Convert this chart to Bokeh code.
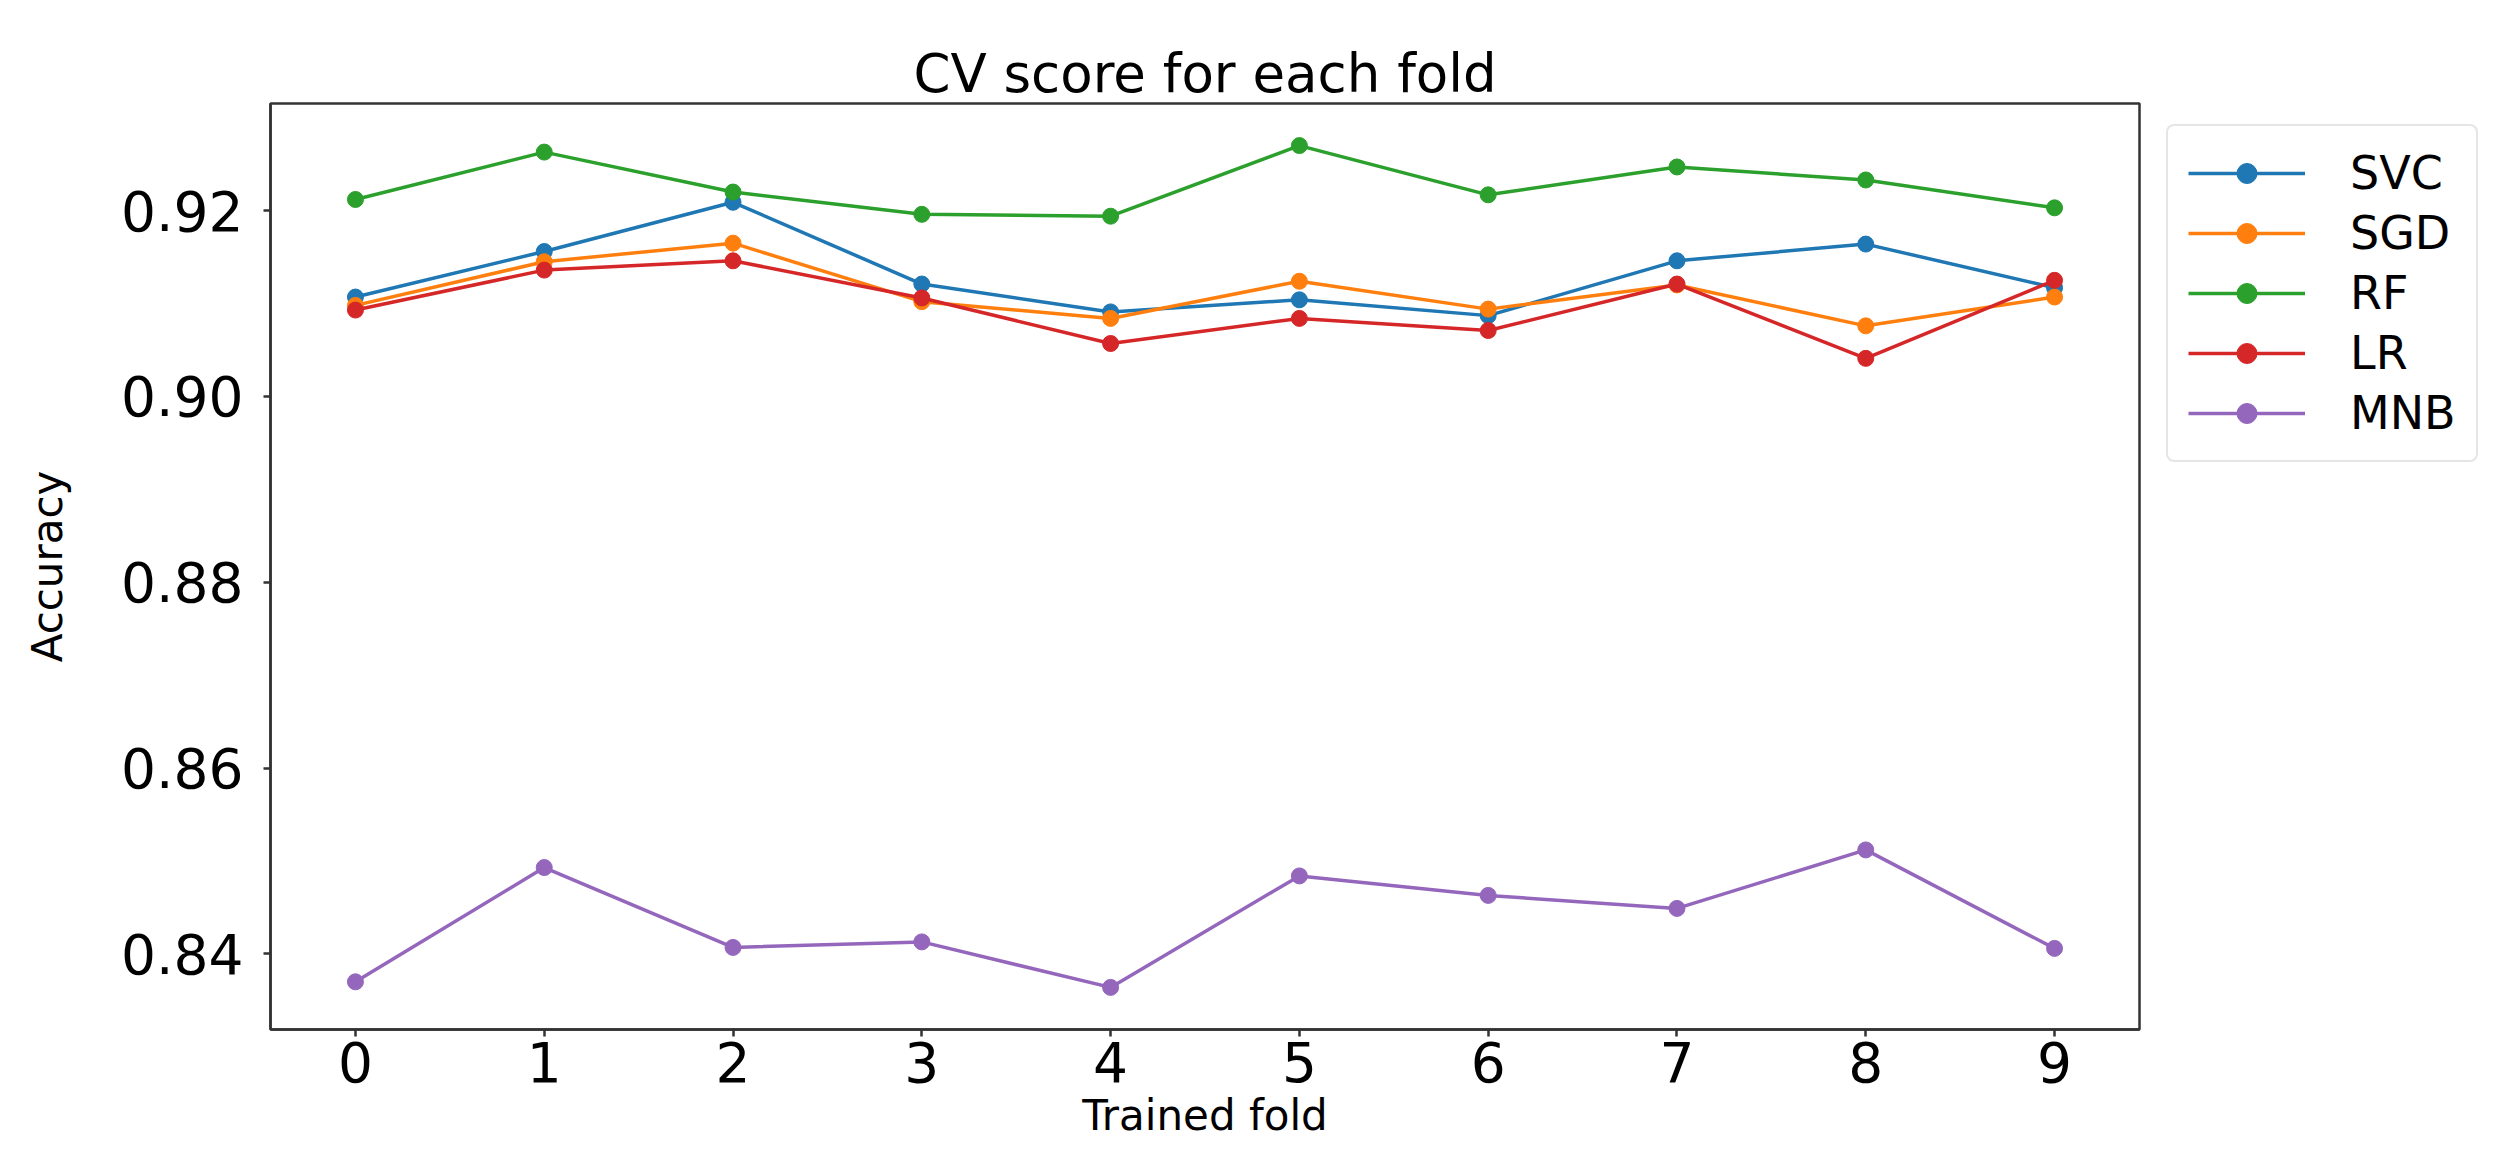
from bokeh.plotting import figure
from bokeh.layouts import row
from bokeh.models import Legend, LegendItem, FixedTicker, Range1d, PrintfTickFormatter
from bokeh.embed import file_html
from bokeh.resources import INLINE

# ---- data ----
folds = [0, 1, 2, 3, 4, 5, 6, 7, 8, 9]
svc = [0.9107, 0.9156, 0.9209, 0.9121, 0.9091, 0.9104, 0.9087, 0.9146, 0.9164, 0.9117]
sgd = [0.9098, 0.9145, 0.9165, 0.9102, 0.9084, 0.9124, 0.9094, 0.9120, 0.9076, 0.9107]
rf = [0.9212, 0.9263, 0.9220, 0.9196, 0.9194, 0.9270, 0.9217, 0.9247, 0.9233, 0.9203]
lr = [0.9093, 0.9136, 0.9146, 0.9106, 0.9057, 0.9084, 0.9071, 0.9121, 0.9041, 0.9125]
mnb = [0.8370, 0.8493, 0.8407, 0.8413, 0.8364, 0.8484, 0.8463, 0.8449, 0.8512, 0.8406]

series_names = ["SVC", "SGD", "RF", "LR", "MNB"]
series_values = [svc, sgd, rf, lr, mnb]
colors = ["#1f77b4", "#ff7f0e", "#2ca02c", "#d62728", "#9467bd"]

x_ticks = folds
y_ticks = [0.84, 0.86, 0.88, 0.90, 0.92]
y_tick_labels = ["0.84", "0.86", "0.88", "0.90", "0.92"]

title_text = "CV score for each fold"
x_label = "Trained fold"
y_label = "Accuracy"

# ---- ranges with matplotlib-like 5% margins ----
all_vals = [v for s in series_values for v in s]
ylo, yhi = min(all_vals), max(all_vals)
ypad = 0.05 * (yhi - ylo)
xlo, xhi = min(folds), max(folds)
xpad = 0.05 * (xhi - xlo)

FONT = "DejaVu Sans"
AX_COLOR = "#333333"
H = 1164

p = figure(
    width=2145, height=H,
    output_backend="svg", toolbar_location=None,
    x_range=Range1d(xlo - xpad, xhi + xpad),
    y_range=Range1d(ylo - ypad, yhi + ypad),
    title=title_text,
    min_border_left=270, min_border_right=6,
    min_border_top=103, min_border_bottom=135,
)
p.background_fill_color = "white"
p.border_fill_color = "white"
p.outline_line_color = AX_COLOR
p.outline_line_width = 2.5
p.grid.visible = False

p.title.text_font = FONT
p.title.text_font_size = "53px"
p.title.text_font_style = "normal"
p.title.text_color = "black"
p.title.align = "center"
p.title.standoff = 0

for ax in (p.xaxis[0], p.yaxis[0]):
    ax.axis_line_color = AX_COLOR
    ax.axis_line_width = 2.5
    ax.major_tick_line_color = AX_COLOR
    ax.major_tick_line_width = 2.5
    ax.major_tick_out = 7
    ax.major_tick_in = 0
    ax.minor_tick_line_color = None
    ax.major_label_text_font = FONT
    ax.major_label_text_font_size = "55px"
    ax.major_label_text_color = "black"
    ax.axis_label_text_font = FONT
    ax.axis_label_text_font_size = "42px"
    ax.axis_label_text_font_style = "normal"
    ax.axis_label_text_color = "black"

p.xaxis.ticker = FixedTicker(ticks=x_ticks)
p.yaxis.ticker = FixedTicker(ticks=y_ticks)
p.yaxis.formatter = PrintfTickFormatter(format="%.2f")
p.yaxis.major_label_overrides = {t: l for t, l in zip(y_ticks, y_tick_labels)}
p.xaxis.axis_label = x_label
p.yaxis.axis_label = y_label
p.xaxis.major_label_standoff = 5
p.yaxis.major_label_standoff = 20
p.xaxis.axis_label_standoff = 6
p.yaxis.axis_label_standoff = 46

# legend lives in a narrow companion figure to the right of the axes;
# its copies of the series sit outside its (empty) view, so only the legend shows
pl = figure(
    width=365, height=H,
    output_backend="svg", toolbar_location=None,
    x_axis_type=None, y_axis_type=None,
    x_range=Range1d(-200, -199), y_range=Range1d(-200, -199),
    min_border=0,
)
pl.outline_line_color = None
pl.grid.visible = False
pl.background_fill_color = "white"
pl.border_fill_color = "white"

items = []
for name, vals, col in zip(series_names, series_values, colors):
    p.line(folds, vals, line_color=col, line_width=3.5)
    p.scatter(folds, vals, size=16, fill_color=col, line_color=col)
    ln = pl.line(folds, vals, line_color=col, line_width=3.5)
    sc = pl.scatter(folds, vals, size=16, fill_color=col, line_color=col)
    items.append(LegendItem(label=name, renderers=[ln, sc]))

legend = Legend(
    items=items,
    location="top_left",
    label_text_font=FONT,
    label_text_font_size="46px",
    label_text_color="black",
    glyph_width=117, glyph_height=50,
    label_standoff=45,
    padding=20, spacing=6, margin=21,
    border_line_color="#cccccc", border_line_width=2,
    background_fill_color="white", background_fill_alpha=0.8,
)
if "border_radius" in Legend.properties():
    legend.border_radius = 8
pl.add_layout(legend)

layout = row(p, pl, spacing=0)
open("out.html", "w").write(file_html(layout, INLINE))
